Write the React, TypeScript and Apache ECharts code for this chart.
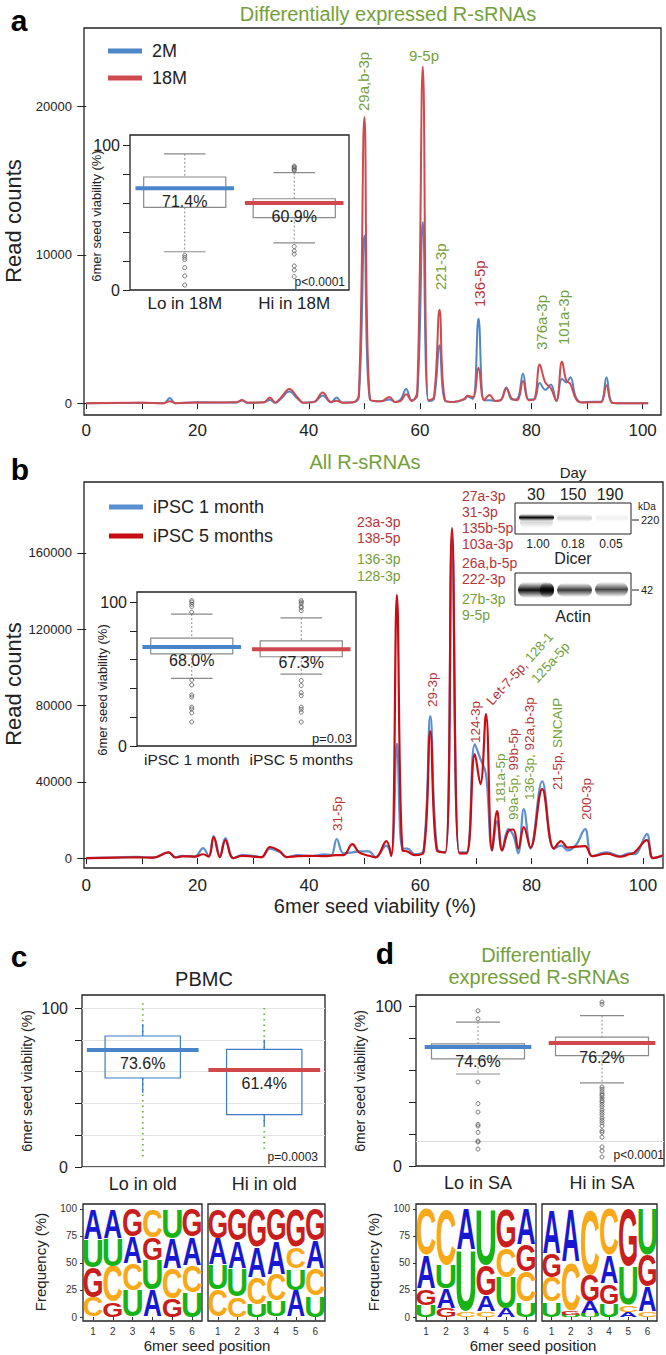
import React, { useEffect, useRef } from "react";
import * as echarts from "echarts";

const FONT = '"Liberation Sans", Arial, Helvetica, sans-serif';
const GREEN = "#74a03a";
const RED_T = "#b5363a";
const BLUE_A = "#4f86c6";
const RED_A = "#cf4a4e";
const BLUE_B = "#5a8fd2";
const RED_B = "#c80c12";
const MED_BLUE = "#4a85c9";
const MED_RED = "#d0474c";

// ---------- Panel a (density of 6mer seed viability, read counts) ----------
const aX = [0, 10, 14, 15, 16, 20, 27, 28, 29, 32, 33, 34, 35, 36.5, 38, 39, 41, 42.5, 44, 45, 46, 48, 49, 50, 51, 53, 54.5, 55.5, 56.5, 57.5, 58.5, 59.5, 60.5, 61.5, 62.5, 63.5, 64.5, 66, 68, 68.5, 69.5, 70.5, 71.5, 72.5, 73.5, 74.5, 75.5, 76.5, 77.5, 78.5, 79.5, 80.5, 81.5, 82.5, 83.5, 84.5, 85.5, 86.3, 87, 88, 89, 91, 92.5, 93.5, 94.5, 96, 101];
const a2M = [0, 20, 0, 350, 0, 60, 40, 180, 20, 60, 220, 20, 300, 780, 300, 30, 80, 520, 60, 380, 40, 60, 400, 11300, 250, 120, 250, 80, 250, 950, 200, 500, 12200, 150, 300, 3900, 150, 80, 250, 450, 300, 5700, 200, 200, 150, 200, 1050, 250, 300, 2000, 250, 250, 1350, 900, 1250, 150, 1650, 1400, 1750, 400, 60, 100, 100, 1750, 40, 0, 0];
const a18M = [0, 30, 0, 120, 0, 40, 60, 220, 30, 60, 380, 40, 380, 950, 380, 30, 100, 720, 80, 160, 30, 60, 600, 19300, 250, 120, 420, 80, 150, 600, 150, 800, 22700, 200, 400, 6300, 200, 80, 300, 500, 400, 2400, 200, 550, 150, 200, 1000, 300, 200, 1500, 200, 250, 2600, 1400, 1000, 150, 2800, 1500, 1300, 300, 40, 60, 60, 1200, 30, 0, 0];
const aYLabels = [0, 10000, 20000];

// ---------- Panel b ----------
const bX = [0, 5, 9.2, 12, 14.8, 16, 17.2, 19.5, 21, 22, 22.9, 24, 25, 26.4, 28, 30, 31.5, 33, 34.8, 36, 38, 40, 42.9, 44, 45, 46.2, 47.8, 49, 50.8, 52, 53.9, 54.8, 55.8, 56.8, 57.7, 59, 60.6, 61.8, 63, 64.5, 65.7, 67, 68.3, 69.8, 70.8, 71.8, 72.9, 73.8, 74.7, 75.8, 76.7, 77.6, 78.6, 79.8, 81.9, 84, 85.3, 86.5, 88, 89.6, 90.9, 93.5, 95.9, 97.5, 98.5, 100.7, 101.8, 103.6];
const b1Month = [0, 300, 700, 200, 3000, 500, 1200, 800, 5200, 1000, 11500, 1000, 10500, 0, 1500, 1200, 500, 5000, 3000, 500, 1500, 1000, 2000, 1500, 10000, 2500, 3000, 3500, 3500, 500, 6500, 1500, 60000, 5000, 5000, 2000, 4000, 74400, 5000, 3000, 168000, 3000, 3000, 59700, 52000, 44000, 4000, 19400, 4000, 15200, 12000, 2500, 25700, 5000, 40300, 5000, 6500, 4000, 7000, 15200, 1000, 3000, 1000, 2500, 2000, 12600, 0, 1000];
const b5Months = [0, 200, 400, 200, 3000, 300, 900, 800, 2000, 800, 11000, 500, 9400, 0, 1200, 800, 500, 5800, 3500, 500, 1000, 1200, 1000, 1300, 1500, 1500, 7300, 3000, 1200, 400, 8900, 1000, 138000, 4000, 3500, 1500, 3000, 66500, 4000, 3000, 173000, 2500, 2500, 54500, 38800, 75500, 4000, 24600, 4000, 14100, 15000, 5000, 16200, 5500, 36200, 5000, 8900, 5500, 6000, 6300, 1000, 2300, 700, 2000, 3000, 9400, 0, 1500];
const bYLabels = [0, 40000, 80000, 120000, 160000];

const xTickValues = [0, 10, 20, 30, 40, 50, 60, 70, 80, 90, 100];
const xLabelValues = [0, 20, 40, 60, 80, 100];

// ---------- Box plots: [q1, median, q3, lower whisker, upper whisker, (ext low, ext high)] ----------
const insetACats = ["Lo in 18M", "Hi in 18M"];
const insetABox = [[57, 70.3, 78, 26.4, 94], [50, 60, 63, 32.6, 81]];
const insetALabels = ["71.4%", "60.9%"];
const insetAOut0 = [24, 22.5, 21, 15.4, 9.7, 3.4];
const insetAOut1 = [85.5, 84.8, 84, 83, 82.5, 30, 27, 24.8, 16.6, 13.8, 9.2];

const insetBCats = ["iPSC 1 month", "iPSC 5 months"];
const insetBBox = [[64, 68.7, 75, 47, 91.6], [62, 67.3, 73, 50, 89]];
const insetBLabels = ["68.0%", "67.3%"];
const insetBOut0 = [101, 100, 98.5, 97, 93, 45.8, 42.4, 35.4, 34, 27, 25.7, 23, 16.7];
const insetBOut1 = [101, 100, 99, 97, 96, 94, 45.5, 42, 37, 35, 27, 25.5, 23.5, 16.7];

const cCats = ["Lo in old", "Hi in old"];
const cBox = [[56, 73.6, 82.4, 46.5, 90, 6, 103], [33, 61, 74, 26, 80, 9, 100]];
const cLabels = ["73.6%", "61.4%"];

const dCats = ["Lo in SA", "Hi in SA"];
const dBox = [[67, 74.4, 76.3, 57.5, 90], [69, 76.9, 80.6, 52, 94]];
const dLabels = ["74.6%", "76.2%"];
const dOut0 = [97, 92, 52.5, 39, 33.7, 26, 25, 21, 15.6, 15, 10.6];
const dOut1 = [102.5, 101, 49.4, 48, 46.5, 45, 44, 42.5, 41, 40, 38.5, 37, 35, 33.5, 32, 30, 28.5, 27, 25, 22, 21, 18, 11.9, 9.4, 5.6];

// ---------- Sequence logos (letters bottom -> top, heights in %) ----------
const logoPositions = ["1", "2", "3", "4", "5", "6"];
const logoYLabels = [0, 25, 50, 75, 100];
const cLoLetters = ["CGUA", "GCUA", "UCAG", "AUGC", "GCAU", "UCAG"];
const cLoHeights = [[18, 28, 26, 28], [14, 33, 26, 27], [24, 25, 25, 26], [25, 28, 21, 26], [17, 28, 28, 27], [23, 25, 26, 26]];
const cHiLetters = ["CUAG", "CUAG", "UCAG", "UCAG", "AUCG", "UCAG"];
const cHiHeights = [[25, 23, 25, 27], [19, 26, 25, 30], [12, 25, 28, 35], [15, 24, 31, 30], [25, 20, 20, 35], [20, 25, 26, 29]];
const dLoLetters = ["UGAC", "GAUC", "CUA", "CAGU", "AUCG", "UCGA"];
const dLoHeights = [[11, 15, 31, 43], [8, 18, 22, 52], [5, 57, 38], [5, 15, 28, 52], [8, 29, 27, 36], [14, 28, 25, 33]];
const dHiLetters = ["UCGA", "UGCA", "UAGC", "UGAC", "ACUG", "CAGU"];
const dHiHeights = [[14, 23, 22, 41], [2, 4, 45, 49], [3, 11, 25, 61], [12, 19, 26, 43], [5, 6, 36, 53], [5, 23, 29, 43]];

const LETTER_COLOR: Record<string, string> = { A: "#1818d0", C: "#f8a91a", G: "#c81f1e", U: "#17b317" };
const LETTER_INK: Record<string, number> = { A: 0.68, C: 0.62, G: 0.66, U: 0.58 };

// ---------- helpers ----------
function T(text: string, x: number, y: number, size: number, o: any = {}) {
  const align = o.align || "center";
  const va = o.va || "middle";
  return {
    type: "text",
    x,
    y,
    rotation: o.rot ? (o.rot * Math.PI) / 180 : 0,
    z: 100,
    silent: true,
    style: {
      text,
      font: `${o.bold ? "bold " : ""}${size}px ${FONT}`,
      fill: o.color || "#222",
      textAlign: align,
      textVerticalAlign: va,
      align,
      verticalAlign: va,
      rich: o.rich,
    },
  };
}

function richSet(size: number) {
  return {
    r: { fill: RED_T, textFill: RED_T, fontSize: size, fontFamily: FONT },
    g: { fill: GREEN, textFill: GREEN, fontSize: size, fontFamily: FONT },
  };
}

function P(text: string, x: number, y: number, color: string, size: number, rich = false, rot = 90) {
  return T(text, x, y, size, { rot, align: "left", color, rich: rich ? richSet(size) : undefined });
}

function L(x1: number, y1: number, x2: number, y2: number, color = "#222", w = 1) {
  return { type: "line", z: 100, silent: true, shape: { x1, y1, x2, y2 }, style: { stroke: color, lineWidth: w } };
}

function R(x: number, y: number, w: number, h: number) {
  return { type: "rect", z: 99, silent: true, shape: { x, y, width: w, height: h }, style: { fill: "#fff", stroke: "#222", lineWidth: 1 } };
}

function band(x: number, y: number, w: number, h: number, a: number) {
  return {
    type: "rect",
    z: 100,
    silent: true,
    shape: { x, y, width: w, height: h, r: h / 2 },
    style: {
      fill: {
        type: "linear",
        x: 0,
        y: 0,
        x2: 0,
        y2: 1,
        colorStops: [
          { offset: 0, color: "rgba(0,0,0,0)" },
          { offset: 0.5, color: `rgba(0,0,0,${a})` },
          { offset: 1, color: "rgba(0,0,0,0)" },
        ],
      },
    },
  };
}

function boxSeries(gi: number, stats: number[][], labels: string[], o: any) {
  return {
    type: "custom",
    xAxisIndex: gi,
    yAxisIndex: gi,
    z: 6,
    silent: true,
    data: stats.map((s, i) => [i, s[1]]),
    renderItem: (params: any, api: any) => {
      const i = params.dataIndex;
      const s = stats[i];
      const [q1, med, q3, lo, hi] = s;
      const cx = api.coord([i, 0])[0];
      const bw = api.size([1, 0])[0];
      const Y = (v: number) => api.coord([i, v])[1];
      const ln = (x1: number, y1: number, x2: number, y2: number, style: any) => ({ type: "line", shape: { x1, y1, x2, y2 }, style });
      const ch: any[] = [];
      if (o.ext) {
        const es = { stroke: "#6cb33f", lineWidth: 1.8, lineDash: [1.5, 4] };
        ch.push(ln(cx, Y(s[6]), cx, Y(q3), es));
        ch.push(ln(cx, Y(q1), cx, Y(s[5]), es));
      }
      const ws = o.whiskerDash
        ? { stroke: "#8a8a8a", lineWidth: 1, lineDash: [2, 2] }
        : { stroke: o.boxColor, lineWidth: 1.3 };
      ch.push(ln(cx, Y(hi), cx, Y(q3), ws));
      ch.push(ln(cx, Y(q1), cx, Y(lo), ws));
      if (o.capW) {
        const cs = { stroke: "#8a8a8a", lineWidth: 1.2 };
        ch.push(ln(cx - (bw * o.capW) / 2, Y(hi), cx + (bw * o.capW) / 2, Y(hi), cs));
        ch.push(ln(cx - (bw * o.capW) / 2, Y(lo), cx + (bw * o.capW) / 2, Y(lo), cs));
      }
      ch.push({
        type: "rect",
        shape: { x: cx - (bw * o.boxW) / 2, y: Y(q3), width: bw * o.boxW, height: Y(q1) - Y(q3) },
        style: { fill: "rgba(255,255,255,0)", stroke: o.boxColor, lineWidth: 1.2 },
      });
      ch.push(ln(cx - (bw * o.lineW) / 2, Y(med), cx + (bw * o.lineW) / 2, Y(med), { stroke: i === 0 ? MED_BLUE : MED_RED, lineWidth: 4 }));
      ch.push({
        type: "text",
        x: cx,
        y: Y(med) + o.labelDy,
        style: { text: labels[i], font: `${o.fs}px ${FONT}`, fill: "#222", textAlign: "center", textVerticalAlign: "middle", align: "center", verticalAlign: "middle" },
      });
      return { type: "group", children: ch };
    },
  };
}

function outlierSeries(gi: number, o0: number[], o1: number[], extra: any = {}) {
  return {
    type: "scatter",
    xAxisIndex: gi,
    yAxisIndex: gi,
    silent: true,
    z: 7,
    symbol: "circle",
    symbolSize: 4,
    itemStyle: { color: "rgba(255,255,255,0)", borderColor: "#555", borderWidth: 1 },
    data: [...o0.map((v) => [0, v]), ...o1.map((v) => [1, v])],
    ...extra,
  };
}

function logoSeries(gi: number, letters: string[], heights: number[][]) {
  const items: any[] = [];
  letters.forEach((s, p) => {
    let cum = 0;
    s.split("").forEach((ch, k) => {
      const h = heights[p][k];
      items.push({ v: [p, cum, cum + h], ch });
      cum += h;
    });
  });
  return {
    type: "custom",
    xAxisIndex: gi,
    yAxisIndex: gi,
    silent: true,
    z: 5,
    data: items.map((d) => d.v),
    renderItem: (params: any, api: any) => {
      const it = items[params.dataIndex];
      const p0 = api.coord([it.v[0], it.v[1]]);
      const p1 = api.coord([it.v[0], it.v[2]]);
      const bw = api.size([1, 0])[0];
      const h = Math.max(0.5, p0[1] - p1[1]);
      const w = bw * 0.9;
      const F = 20;
      return {
        type: "text",
        x: p0[0],
        y: (p0[1] + p1[1]) / 2,
        scaleX: w / (LETTER_INK[it.ch] * F),
        scaleY: h / (0.72 * F),
        style: {
          text: it.ch,
          font: `bold ${F}px ${FONT}`,
          fill: LETTER_COLOR[it.ch],
          textAlign: "center",
          textVerticalAlign: "middle",
          align: "center",
          verticalAlign: "middle",
        },
      };
    },
  };
}

const grids = [
  { left: 84, top: 28, width: 577, height: 387 }, // 0 a main
  { left: 130, top: 135, width: 219, height: 155, backgroundColor: "#fff" }, // 1 a inset
  { left: 84, top: 482, width: 579, height: 386 }, // 2 b main
  { left: 137, top: 592, width: 219, height: 154, backgroundColor: "#fff" }, // 3 b inset
  { left: 82, top: 995, width: 243, height: 172 }, // 4 c box
  { left: 416, top: 995, width: 248, height: 171 }, // 5 d box
  { left: 83, top: 1204, width: 119, height: 117 }, // 6 c logo lo
  { left: 208, top: 1204, width: 117, height: 117 }, // 7 c logo hi
  { left: 416, top: 1204, width: 120, height: 117 }, // 8 d logo lo
  { left: 542, top: 1204, width: 115, height: 117 }, // 9 d logo hi
].map((g) => ({ show: true, borderColor: "#222", borderWidth: 1.3, backgroundColor: "rgba(255,255,255,0)", ...g }));

const plain = (v: number) => String(v);

function mainX(gi: number, max: number, margin: number) {
  return {
    type: "value",
    gridIndex: gi,
    min: -0.4,
    max,
    axisLine: { show: false },
    splitLine: { show: false },
    axisTick: { show: true, customValues: xTickValues, length: 6, lineStyle: { color: "#222" } },
    axisLabel: { customValues: xLabelValues, fontSize: 17, color: "#222", margin, fontFamily: FONT, formatter: plain },
  };
}
function mainY(gi: number, min: number, max: number, labels: number[]) {
  return {
    type: "value",
    gridIndex: gi,
    min,
    max,
    axisLine: { show: false },
    splitLine: { show: false },
    axisTick: { show: true, customValues: labels, length: 9, lineStyle: { color: "#222" } },
    axisLabel: { customValues: labels, fontSize: 13, color: "#222", margin: 12, fontFamily: FONT, formatter: plain },
  };
}
function catX(gi: number, cats: string[], fs: number, margin: number) {
  return {
    type: "category",
    gridIndex: gi,
    data: cats,
    axisLine: { show: false },
    axisTick: { show: false },
    splitLine: { show: false },
    axisLabel: { fontSize: fs, color: "#222", margin, fontFamily: FONT, interval: 0 },
  };
}
function boxY(gi: number, max: number, fs: number, margin: number, grid = false) {
  return {
    type: "value",
    gridIndex: gi,
    min: 0,
    max,
    interval: 20,
    axisLine: { show: false },
    splitLine: { show: grid, lineStyle: { color: "#e4e4e4", width: 1 } },
    axisTick: { show: true, customValues: [0, 20, 40, 60, 80, 100], length: 7, lineStyle: { color: "#222" } },
    axisLabel: { customValues: [0, 100], fontSize: fs, color: "#222", margin, fontFamily: FONT, formatter: plain },
  };
}
function logoX(gi: number) {
  return {
    type: "category",
    gridIndex: gi,
    data: logoPositions,
    axisLine: { show: false },
    axisTick: { show: true, alignWithLabel: true, length: 3, lineStyle: { color: "#333" } },
    axisLabel: { fontSize: 10, color: "#333", margin: 5, fontFamily: FONT },
  };
}
function logoY(gi: number, showLabels: boolean) {
  return {
    type: "value",
    gridIndex: gi,
    min: -3.7,
    max: 104.6,
    axisLine: { show: false },
    splitLine: { show: false },
    axisTick: { show: showLabels, customValues: logoYLabels, length: 3, lineStyle: { color: "#333" } },
    axisLabel: { show: showLabels, customValues: logoYLabels, fontSize: 10, color: "#333", margin: 6, fontFamily: FONT, formatter: plain },
  };
}

function buildGraphics() {
  const g: any[] = [];
  // panel letters
  g.push(T("a", 19, 20, 30, { bold: true, color: "#000" }));
  g.push(T("b", 20, 469, 30, { bold: true, color: "#000" }));
  g.push(T("c", 19, 956, 30, { bold: true, color: "#000" }));
  g.push(T("d", 385, 953, 30, { bold: true, color: "#000" }));
  // titles
  g.push(T("Differentially expressed R-sRNAs", 388, 14, 20, { color: GREEN }));
  g.push(T("All R-sRNAs", 365, 462, 20, { color: GREEN }));
  g.push(T("PBMC", 204, 979, 20));
  g.push(T("Differentially", 536, 955, 20, { color: GREEN }));
  g.push(T("expressed R-sRNAs", 539, 977, 20, { color: GREEN }));
  // axis titles
  g.push(T("Read counts", 13, 221, 22, { rot: 90 }));
  g.push(T("Read counts", 13, 684, 22, { rot: 90 }));
  g.push(T("6mer seed viability (%)", 375, 906, 20));
  g.push(T("6mer seed viability (%)", 96, 216, 13, { rot: 90 }));
  g.push(T("6mer seed viability (%)", 102, 690, 13, { rot: 90 }));
  g.push(T("6mer seed viability (%)", 27, 1081, 14, { rot: 90 }));
  g.push(T("6mer seed viability (%)", 360, 1081, 14, { rot: 90 }));
  g.push(T("Frequency (%)", 40, 1262, 15, { rot: 90 }));
  g.push(T("Frequency (%)", 373, 1262, 15, { rot: 90 }));
  g.push(T("6mer seed position", 207, 1345, 15));
  g.push(T("6mer seed position", 533, 1345, 15));
  // p values
  g.push(T("p<0.0001", 345, 282, 12, { align: "right" }));
  g.push(T("p=0.03", 352, 738, 13, { align: "right" }));
  g.push(T("p=0.0003", 318, 1157, 12, { align: "right" }));
  g.push(T("p<0.0001", 664, 1155, 12, { align: "right" }));
  // peak labels a
  g.push(P("29a,b-3p", 363, 111, GREEN, 15));
  g.push(T("9-5p", 424, 55, 15, { color: GREEN }));
  g.push(P("221-3p", 440, 290, GREEN, 15));
  g.push(P("136-5p", 479, 307, RED_T, 15));
  g.push(P("376a-3p", 541, 350, GREEN, 15));
  g.push(P("101a-3p", 563, 345, GREEN, 15));
  // peak labels b
  const s = 13.5;
  g.push(P("31-5p", 337, 831, RED_T, s));
  g.push(P("29-3p", 432, 707, RED_T, s));
  g.push(P("124-3p", 475, 743, RED_T, s));
  g.push(P("181a-5p", 500, 803, GREEN, s));
  g.push(P("{g|99a-5p,} {r|99b-5p}", 513, 820, RED_T, s, true));
  g.push(P("{g|136-3p,} {r|92a,b-3p}", 529, 800, RED_T, s, true));
  g.push(P("{r|21-5p,} {g|SNCAIP}", 557, 790, RED_T, s, true));
  g.push(P("200-3p", 586, 820, RED_T, s));
  g.push(P("{r|Let-7-5p,} {g|128-1}", 489, 703, RED_T, s, true, 48));
  g.push(P("{g|125a-5p}", 534, 681, GREEN, s, true, 48));
  const stackL = [["23a-3p", RED_T, 522], ["138-5p", RED_T, 538], ["136-3p", GREEN, 559], ["128-3p", GREEN, 576]];
  stackL.forEach(([t, c, y]) => g.push(T(t as string, 357, y as number, 14, { align: "left", color: c })));
  const stackR = [
    ["27a-3p", RED_T, 496], ["31-3p", RED_T, 512], ["135b-5p", RED_T, 528], ["103a-3p", RED_T, 544],
    ["26a,b-5p", RED_T, 563], ["222-3p", RED_T, 579], ["27b-3p", GREEN, 599], ["9-5p", GREEN, 615],
  ];
  stackR.forEach(([t, c, y]) => g.push(T(t as string, 462, y as number, 14, { align: "left", color: c })));
  // western blot
  g.push(T("Day", 573, 472, 15));
  g.push(T("30", 536, 494, 16));
  g.push(T("150", 573, 494, 16));
  g.push(T("190", 610, 494, 16));
  g.push(R(515, 503, 116, 31));
  g.push(band(519, 514, 35, 7, 0.97));
  g.push(band(520, 517, 33, 11, 0.15));
  g.push(band(557, 514, 35, 8, 0.18));
  g.push(band(596, 514, 32, 8, 0.06));
  g.push(T("kDa", 647, 506, 10));
  g.push(L(632, 520, 639, 520));
  g.push(T("220", 641, 520, 11, { align: "left" }));
  g.push(T("1.00", 538, 544, 12));
  g.push(T("0.18", 573, 544, 12));
  g.push(T("0.05", 611, 544, 12));
  g.push(T("Dicer", 573, 558, 16));
  g.push(R(515, 573, 116, 32));
  g.push(band(518, 582, 36, 16, 0.95));
  g.push(band(540, 582, 14, 16, 0.9));
  g.push(band(557, 583, 35, 14, 0.78));
  g.push(band(595, 582, 33, 15, 0.72));
  g.push(L(632, 590, 639, 590));
  g.push(T("42", 641, 590, 11, { align: "left" }));
  g.push(T("Actin", 573, 616, 16));
  return g;
}

function buildOption() {
  const lineBase = { type: "line", symbol: "none", smooth: 0.4, silent: true };
  return {
    animation: false,
    textStyle: { fontFamily: FONT },
    grid: grids,
    legend: [
      {
        data: ["2M", "18M"], left: 103, top: 37, orient: "vertical", icon: "rect",
        itemWidth: 34, itemHeight: 5, itemGap: 9, selectedMode: false,
        textStyle: { fontSize: 18, color: "#222", padding: [0, 0, 0, 5] },
      },
      {
        data: ["iPSC 1 month", "iPSC 5 months"], left: 104, top: 493, orient: "vertical", icon: "rect",
        itemWidth: 34, itemHeight: 5, itemGap: 11, selectedMode: false,
        textStyle: { fontSize: 18, color: "#222", padding: [0, 0, 0, 5] },
      },
    ],
    xAxis: [
      mainX(0, 103.3, 7),
      catX(1, insetACats, 17, 5),
      mainX(2, 103.6, 9),
      catX(3, insetBCats, 15.5, 5),
      catX(4, cCats, 18, 8),
      catX(5, dCats, 18, 8),
      logoX(6), logoX(7), logoX(8), logoX(9),
    ],
    yAxis: [
      mainY(0, -800, 25300, aYLabels),
      boxY(1, 107, 16, 10),
      mainY(2, -5200, 197200, bYLabels),
      boxY(3, 107, 16, 10),
      boxY(4, 108.2, 16, 14, true),
      boxY(5, 106.9, 16, 14),
      logoY(6, true), logoY(7, false), logoY(8, true), logoY(9, false),
    ],
    graphic: { elements: buildGraphics() },
    series: [
      { ...lineBase, name: "2M", xAxisIndex: 0, yAxisIndex: 0, z: 3, data: aX.map((x, i) => [x, a2M[i]]), lineStyle: { width: 2, color: BLUE_A }, itemStyle: { color: BLUE_A } },
      { ...lineBase, name: "18M", xAxisIndex: 0, yAxisIndex: 0, z: 4, data: aX.map((x, i) => [x, a18M[i]]), lineStyle: { width: 2, color: RED_A }, itemStyle: { color: RED_A } },
      { ...lineBase, name: "iPSC 1 month", xAxisIndex: 2, yAxisIndex: 2, z: 3, data: bX.map((x, i) => [x, b1Month[i]]), lineStyle: { width: 2.2, color: BLUE_B }, itemStyle: { color: BLUE_B } },
      { ...lineBase, name: "iPSC 5 months", xAxisIndex: 2, yAxisIndex: 2, z: 4, data: bX.map((x, i) => [x, b5Months[i]]), lineStyle: { width: 2.2, color: RED_B }, itemStyle: { color: RED_B } },
      boxSeries(1, insetABox, insetALabels, { boxW: 0.75, lineW: 0.9, capW: 0.38, boxColor: "#8a8a8a", whiskerDash: true, labelDy: 13, fs: 16 }),
      outlierSeries(1, insetAOut0, insetAOut1),
      boxSeries(3, insetBBox, insetBLabels, { boxW: 0.75, lineW: 0.9, capW: 0.38, boxColor: "#8a8a8a", whiskerDash: true, labelDy: 13, fs: 16 }),
      outlierSeries(3, insetBOut0, insetBOut1),
      boxSeries(4, cBox, cLabels, { boxW: 0.62, lineW: 0.92, capW: 0, boxColor: "#3f7cc4", whiskerDash: false, ext: true, labelDy: 13, fs: 16 }),
      boxSeries(5, dBox, dLabels, { boxW: 0.75, lineW: 0.86, capW: 0.355, boxColor: "#8a8a8a", whiskerDash: true, labelDy: 15, fs: 16 }),
      outlierSeries(5, dOut0, dOut1, {
        markLine: { silent: true, symbol: "none", label: { show: false }, lineStyle: { color: "#dcdcdc", type: "solid", width: 1 }, data: [{ yAxis: 15.6 }] },
      }),
      logoSeries(6, cLoLetters, cLoHeights),
      logoSeries(7, cHiLetters, cHiHeights),
      logoSeries(8, dLoLetters, dLoHeights),
      logoSeries(9, dHiLetters, dHiHeights),
    ],
  };
}

export default function App() {
  const ref = useRef<HTMLDivElement>(null);
  useEffect(() => {
    const chart = echarts.init(ref.current as HTMLDivElement, null, { renderer: "svg" });
    chart.setOption(buildOption() as any);
    return () => chart.dispose();
  }, []);
  return (
    <div
      ref={ref}
      style={{ position: "absolute", left: 0, top: 0, width: 666, height: 1355, background: "#fff" }}
    />
  );
}
